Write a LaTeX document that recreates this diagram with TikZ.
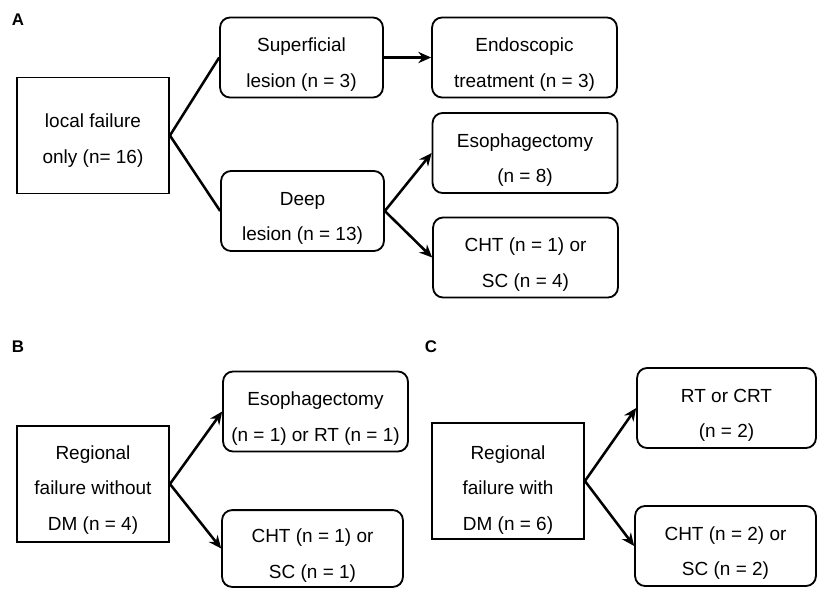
\documentclass[tikz,border=0pt]{standalone}
\usepackage{fontspec}
\setmainfont{Liberation Sans}
\usetikzlibrary{arrows.meta}
\newcommand{\boxheight}{2cm}
\newcommand{\wideboxwidth}{4.62cm}
\newcommand{\startboxwidth}{3.8cm}

\begin{document}
\begin{tikzpicture}[x=0.025cm,y=-0.025cm]
            \useasboundingbox (0,0) rectangle (817,588);

            % panel letters
            \begin{scope}[every node/.style={font=\fontsize{12}{14}\selectfont\bfseries}]
                \node (pa) at (18,20) {A};
                \node (pb) at (18,347) {B};
                \node (pc) at (431,347) {C};
            \end{scope}

            % starting boxes
            \begin{scope}[every node/.style={rectangle,draw,line width=1.3pt,align=center,
                minimum width=\startboxwidth,minimum height=2.9cm,inner sep=0pt,
                text height=2.45cm,text depth=0.15cm,
                font=\fontsize{13.5}{25}\selectfont}]
                \node[text height=1.5cm,text depth=0.125cm] (local) at (93,135.5) {local failure\\only (n= 16)};
                \node (regb) at (93,484) {Regional\\failure without\\DM (n = 4)};
                \node[text height=2.6cm] (regc) at (508,481) {Regional\\failure with\\DM (n = 6)};
            \end{scope}

            % outcome boxes
            \begin{scope}[every node/.style={rectangle,rounded corners=0.25cm,draw,line width=1.3pt,
                align=center,minimum width=\wideboxwidth,minimum height=\boxheight,inner sep=0pt,
                text height=1.6cm,text depth=0.125cm,
                font=\fontsize{13.5}{25}\selectfont}]
                \node[minimum width=4.07cm] (sup) at (301.5,57.5) {Superficial\\lesion (n = 3)};
                \node[minimum width=4.07cm] (deep) at (302.5,211) {Deep\\lesion (n = 13)};
                \node (endo) at (524.5,57.5) {Endoscopic\\treatment (n = 3)};
                \node (eso) at (525,153) {Esophagectomy\\(n = 8)};
                \node (chta) at (525.5,257.5) {CHT (n = 1) or\\SC (n = 4)};
                \node (esob) at (315.5,411.5) {Esophagectomy\\(n = 1) or RT (n = 1)};
                \node[minimum width=4.52cm,minimum height=1.92cm] (chtb) at (312.5,548.5) {CHT (n = 1) or\\SC (n = 1)};
                \node[minimum width=4.47cm] (rtc) at (726.5,408) {RT or CRT\\(n = 2)};
                \node[minimum width=4.52cm] (chtc) at (725.5,546) {CHT (n = 2) or\\SC (n = 2)};
            \end{scope}

            \begin{scope}[>={Stealth[length=0.32cm,width=0.28cm]},
                every edge/.style={draw=black,line width=1.8pt}]
                \path (local.east) edge (sup.west);
                \path (local.east) edge (deep.west);
                \path [->] (sup) edge (endo);
                \path [->] (deep.east) edge (eso.west);
                \path [->] (deep.east) edge (chta.west);
                \path [->] (regb.east) edge (esob.west);
                \path [->] (regb.east) edge (chtb.west);
                \path [->] (regc.east) edge (rtc.west);
                \path [->] (regc.east) edge (chtc.west);
            \end{scope}
            \end{tikzpicture}
\end{document}
